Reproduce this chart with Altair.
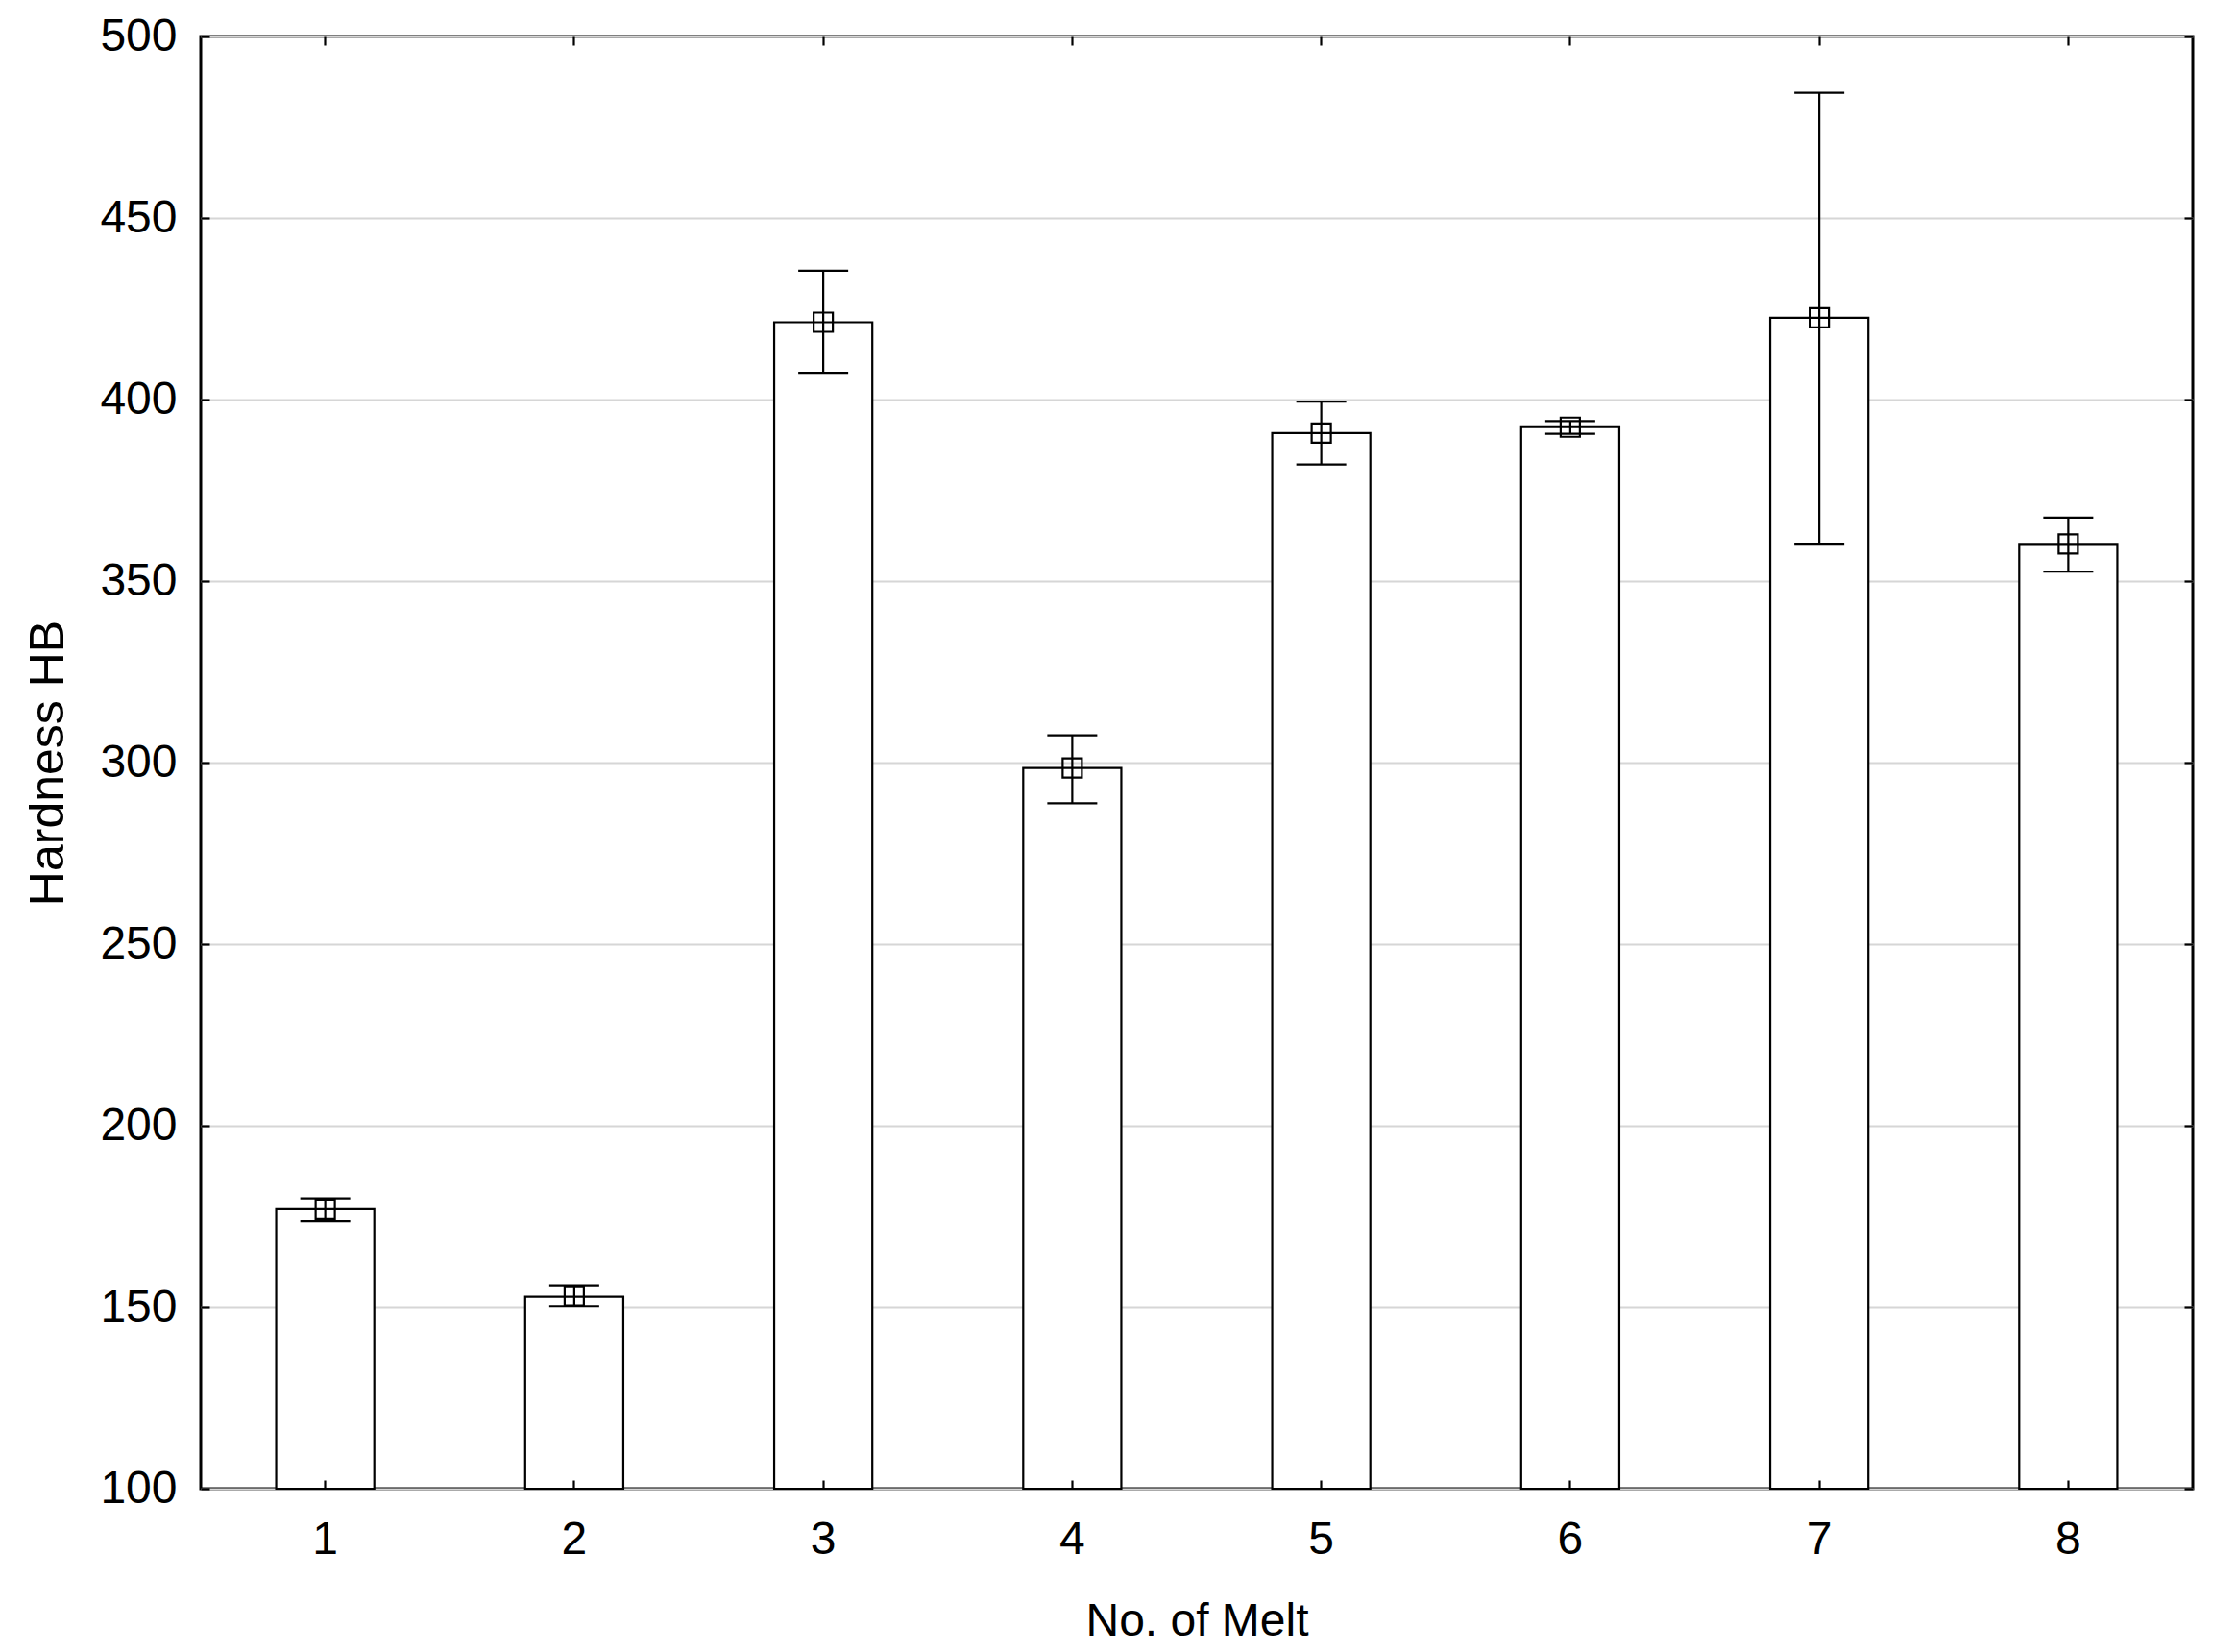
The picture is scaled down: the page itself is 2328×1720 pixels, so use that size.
import altair as alt
import pandas as pd

melts = ["1", "2", "3", "4", "5", "6", "7", "8"]
means = [177.0, 153.0, 421.3, 298.5, 390.8, 392.4, 422.5, 360.2]
upper = [180.0, 155.9, 435.5, 307.5, 399.4, 394.1, 484.5, 367.5]
lower = [173.8, 150.2, 407.4, 288.8, 382.1, 390.6, 360.3, 352.6]
y_ticks = [100, 150, 200, 250, 300, 350, 400, 450, 500]

df = pd.DataFrame({"melt": melts, "mean": means, "upper": upper, "lower": lower})

FONT = "Liberation Sans"
FS = 48
TICK = 9
LW = 2.2

x_band = alt.Scale(paddingInner=0, paddingOuter=0)

bars = alt.Chart(df).mark_bar(
    width=alt.RelativeBandSize(0.394), fill="white", stroke="black", strokeWidth=LW
).encode(
    x=alt.X("melt:O", sort=melts, scale=x_band,
            axis=alt.Axis(orient="bottom", title="No. of Melt", labelAngle=0,
                          offset=-TICK, tickSize=TICK, domain=False, grid=False,
                          labelPadding=29, titlePadding=37, zindex=1)),
    y=alt.Y("mean:Q", scale=alt.Scale(domain=[100, 500], zero=False, nice=False),
            axis=alt.Axis(orient="left", values=y_ticks, offset=-TICK, tickSize=TICK,
                          domain=False, grid=True, gridColor="#d6d6d6", gridWidth=2,
                          labelPadding=25, title="Hardness HB", titlePadding=28,
                          titleFontSize=50)),
    y2=alt.datum(100),
)

rules = alt.Chart(df).mark_rule(color="black", strokeWidth=LW).encode(
    x=alt.X("melt:O", sort=melts, axis=None),
    y=alt.Y("lower:Q", axis=alt.Axis(orient="right", values=y_ticks, labels=False, title=None,
                                     offset=-TICK, tickSize=TICK, domain=False, grid=False)),
    y2="upper:Q",
)

caps_top = alt.Chart(df).mark_tick(size=52, thickness=LW, color="black", opacity=1).encode(
    x=alt.X("melt:O", sort=melts, axis=None),
    y=alt.Y("upper:Q", axis=None),
)

caps_bot = alt.Chart(df).mark_tick(size=52, thickness=LW, color="black", opacity=1).encode(
    x=alt.X("melt:O", sort=melts, axis=None),
    y=alt.Y("lower:Q", axis=None),
)

points = alt.Chart(df).mark_point(
    shape="square", size=400, filled=False, stroke="black", strokeWidth=LW, opacity=1
).encode(
    x=alt.X("melt:O", sort=melts,
            axis=alt.Axis(orient="top", labels=False, title=None, offset=-TICK, tickSize=TICK,
                          domain=False, grid=False)),
    y=alt.Y("mean:Q", axis=None),
)

chart = alt.layer(bars, rules, caps_top, caps_bot, points).resolve_axis(
    x="independent", y="independent"
).properties(
    width=2074, height=1512,
    autosize=alt.AutoSizeParams(type="none"),
    padding={"left": 201, "top": 30, "right": 37, "bottom": 162},
).configure_view(
    stroke="black", strokeWidth=3
).configure_axis(
    labelFont=FONT, titleFont=FONT, labelFontSize=FS, titleFontSize=FS,
    labelColor="black", titleColor="black", tickColor="black", tickWidth=2.2,
    titleFontWeight="normal",
)

chart.save("out.html", embed_options={"renderer": "svg", "actions": False})
